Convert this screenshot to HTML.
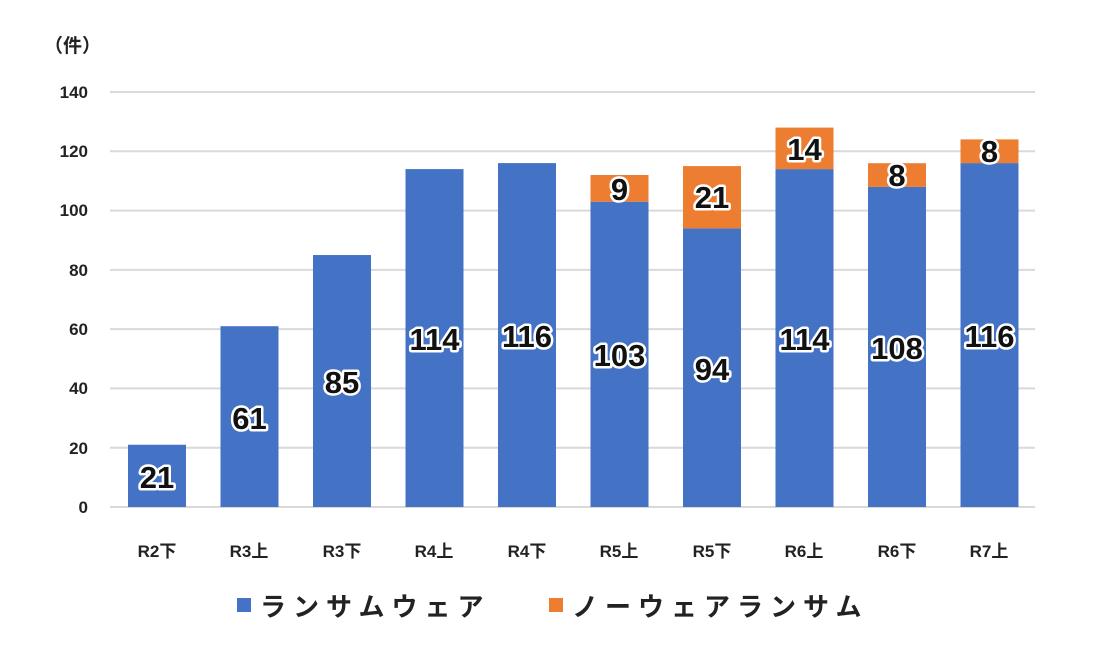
<!DOCTYPE html>
<html><head><meta charset="utf-8"><style>
html,body{margin:0;padding:0;background:#fff;}
svg{display:block;font-family:"Liberation Sans","Noto Sans CJK JP",sans-serif;}
.ax{font-size:17px;font-weight:bold;fill:#222;}
.lb{font-size:31px;font-weight:bold;fill:#111;stroke:#fff;stroke-width:5px;paint-order:stroke;stroke-linejoin:round;}
.b{fill:#4472c4}.o{fill:#ed7d31}
</style></head><body>
<svg width="1094" height="646" viewBox="0 0 1094 646">
<text x="44" y="52" class="ax" style="font-size:19px">（件）</text>
<g stroke="#d9d9d9" stroke-width="2">
<line x1="110" y1="92" x2="1035" y2="92"/>
<line x1="110" y1="151.3" x2="1035" y2="151.3"/>
<line x1="110" y1="210.6" x2="1035" y2="210.6"/>
<line x1="110" y1="269.9" x2="1035" y2="269.9"/>
<line x1="110" y1="329.1" x2="1035" y2="329.1"/>
<line x1="110" y1="388.4" x2="1035" y2="388.4"/>
<line x1="110" y1="447.7" x2="1035" y2="447.7"/>
<line x1="110" y1="507" x2="1035" y2="507"/>
</g>
<g class="ax" text-anchor="end">
<text x="88" y="98">140</text><text x="88" y="157">120</text><text x="88" y="216">100</text>
<text x="88" y="276">80</text><text x="88" y="335">60</text><text x="88" y="394">40</text>
<text x="88" y="454">20</text><text x="88" y="513">0</text>
</g>
<g>
<rect class="b" x="128" y="444.75" width="58" height="62.25"/>
<rect class="b" x="220.5" y="326.2" width="58" height="180.8"/>
<rect class="b" x="313" y="255.04" width="58" height="251.96"/>
<rect class="b" x="405.5" y="169.1" width="58" height="337.9"/>
<rect class="b" x="498" y="163.1" width="58" height="343.9"/>
<rect class="b" x="590.5" y="201.7" width="58" height="305.3"/>
<rect class="o" x="590.5" y="175" width="58" height="26.7"/>
<rect class="b" x="683" y="228.4" width="58" height="278.6"/>
<rect class="o" x="683" y="166.1" width="58" height="62.3"/>
<rect class="b" x="775.5" y="169.1" width="58" height="337.9"/>
<rect class="o" x="775.5" y="127.6" width="58" height="41.5"/>
<rect class="b" x="868" y="186.9" width="58" height="320.1"/>
<rect class="o" x="868" y="163.2" width="58" height="23.7"/>
<rect class="b" x="960.5" y="163.1" width="58" height="343.9"/>
<rect class="o" x="960.5" y="139.4" width="58" height="23.7"/>
</g>
<g class="lb" text-anchor="middle">
<text x="157" y="488">21</text>
<text x="249.5" y="429">61</text>
<text x="342" y="393">85</text>
<text x="434.5" y="350">114</text>
<text x="527" y="347">116</text>
<text x="619.5" y="366">103</text>
<text x="619.5" y="200">9</text>
<text x="712" y="380">94</text>
<text x="712" y="208">21</text>
<text x="804.5" y="350">114</text>
<text x="804.5" y="160">14</text>
<text x="897" y="359">108</text>
<text x="897" y="186">8</text>
<text x="989.5" y="347">116</text>
<text x="989.5" y="162">8</text>
</g>
<g class="ax" text-anchor="middle">
<text x="157" y="557">R2下</text><text x="249" y="557">R3上</text><text x="342" y="557">R3下</text>
<text x="434" y="557">R4上</text><text x="527" y="557">R4下</text><text x="619" y="557">R5上</text>
<text x="712" y="557">R5下</text><text x="804" y="557">R6上</text><text x="897" y="557">R6下</text>
<text x="989" y="557">R7上</text>
</g>
<rect x="237" y="598" width="14" height="14" fill="#4472c4"/>
<text x="260" y="616" class="ax" style="font-size:26px;letter-spacing:7px">ランサムウェア</text>
<rect x="549" y="598" width="14" height="14" fill="#ed7d31"/>
<text x="572" y="616" class="ax" style="font-size:26px;letter-spacing:7px">ノーウェアランサム</text>
</svg>
</body></html>
